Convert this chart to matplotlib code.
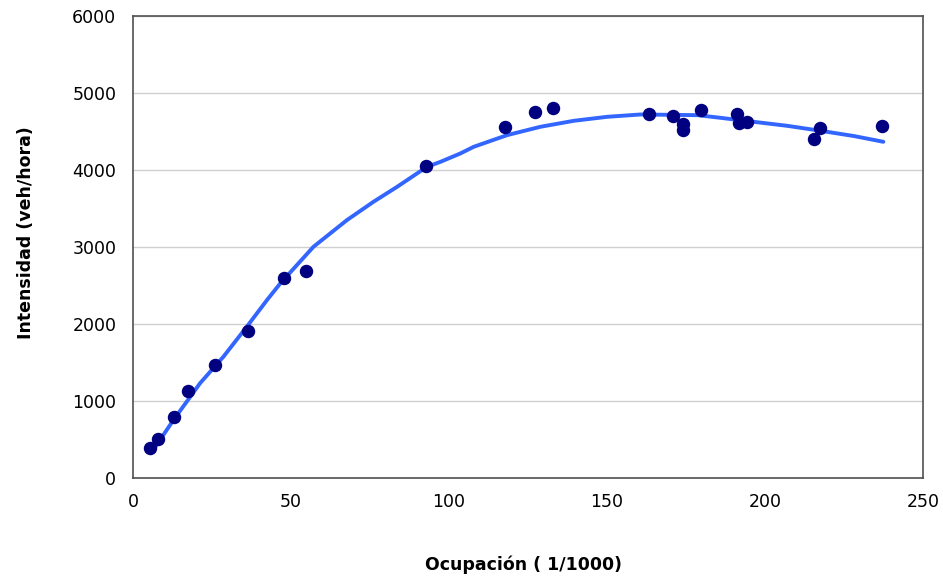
import numpy as np
import matplotlib.pyplot as plt

plt.rcParams['font.family'] = ['DejaVu Sans']

# observed points
ocupacion = [5.4, 8.0, 13.1, 17.5, 25.8, 36.5, 47.8, 54.8, 92.8, 117.7,
             127.2, 132.8, 163.4, 170.9, 174.0, 174.0, 179.8, 191.2,
             191.8, 194.4, 215.3, 217.3, 236.9]
intensidad = [390, 502, 796, 1134, 1468, 1913, 2593, 2693, 4052, 4563,
              4749, 4801, 4723, 4697, 4593, 4519, 4775, 4731,
              4606, 4619, 4407, 4550, 4568]

# fitted curve
curva_x = [5.7, 12.8, 21.2, 28.6, 36.0, 42.4, 46.6, 57.1, 67.7, 76.1, 83.6,
           93.0, 97.3, 103.6, 107.8, 118.4, 128.9, 139.5, 150.1, 154.3,
           160.6, 178.6, 186.0, 196.5, 207.1, 217.7, 228.2, 237.4]
curva_y = [321, 753, 1230, 1575, 1965, 2312, 2528, 3004, 3351, 3589, 3784,
           4043, 4108, 4217, 4303, 4455, 4563, 4641, 4693, 4705,
           4723, 4714, 4679, 4627, 4575, 4510, 4442, 4368]

fig = plt.figure(figsize=(9.43, 5.78), dpi=100)
ax = fig.add_axes([0.141, 0.173, 0.838, 0.799])

ax.plot(curva_x, curva_y, color='#3366FF', lw=2.8, zorder=2,
        solid_capstyle='round', solid_joinstyle='round')
ax.scatter(ocupacion, intensidad, s=75, color='#000080', zorder=3)

ax.set_xlim(0, 250)
ax.set_ylim(0, 6000)
ax.set_xticks(np.arange(0, 251, 50))
ax.set_yticks(np.arange(0, 6001, 1000))
ax.yaxis.grid(True, color='#D0D0D0', lw=1)
ax.set_axisbelow(True)
ax.tick_params(length=0, labelsize=12.5)
ax.tick_params(axis='y', pad=12)
ax.tick_params(axis='x', pad=11)
for s in ax.spines.values():
    s.set_color('#505050')
    s.set_linewidth(1.2)

ax.set_xlabel('Ocupación ( 1/1000)', fontsize=12.5, fontweight='bold')
ax.set_ylabel('Intensidad (veh/hora)', fontsize=12.5, fontweight='bold')
ax.xaxis.set_label_coords(0.494, -0.168)
ax.yaxis.set_label_coords(-0.124, 0.532)

fig.savefig('out.png', dpi=100)
